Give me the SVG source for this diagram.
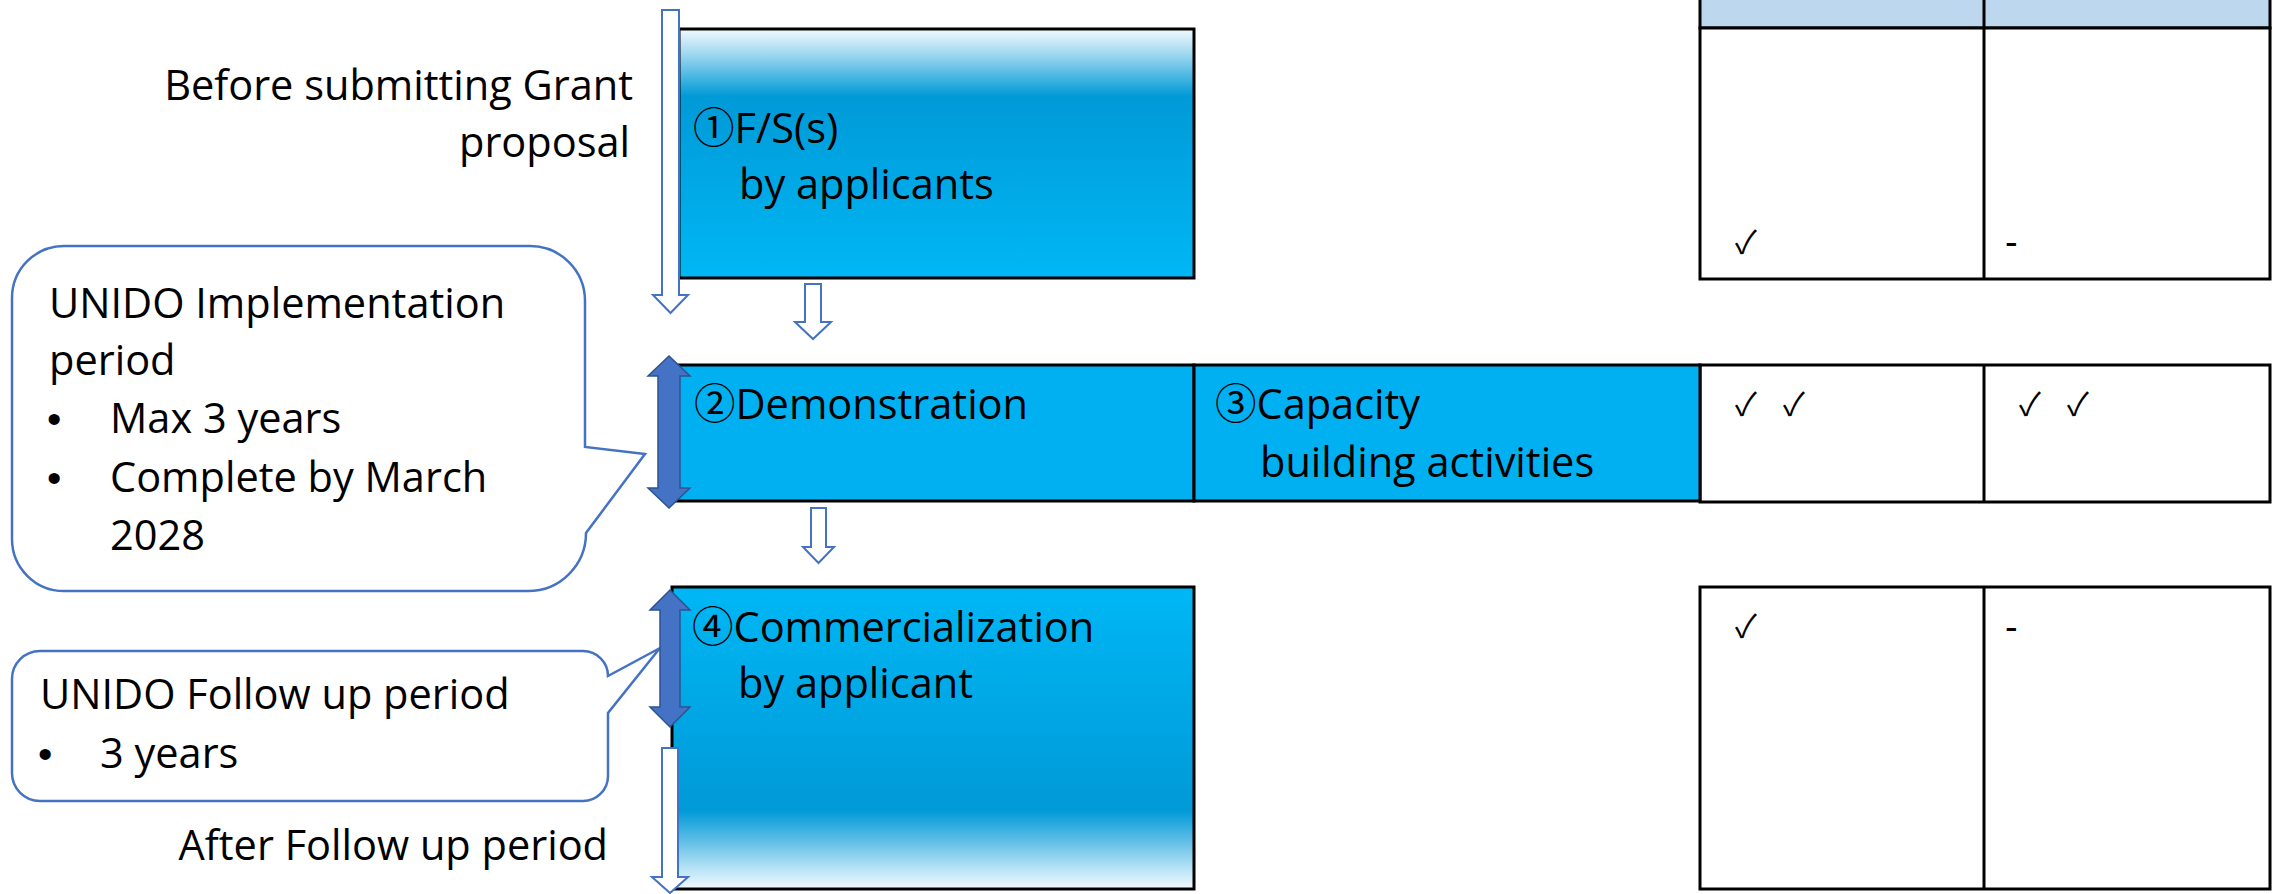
<svg xmlns="http://www.w3.org/2000/svg" width="2272" height="894" viewBox="0 0 2272 894">
<style>
.t{font-family:"Open Sans","Noto Sans CJK JP",sans-serif;font-size:41.5px;fill:#000}
.b{font-family:"Liberation Sans",sans-serif;font-size:41px;fill:#000}
.ck{font-family:"Noto Sans CJK JP","DejaVu Sans",sans-serif;font-size:32px;fill:#000}
.dash{font-family:"Liberation Sans",sans-serif;font-size:38px;fill:#000}
.box{stroke:#000;stroke-width:3}
.cell{fill:#fff;stroke:#000;stroke-width:3}
.hollow{fill:#fff;stroke:#4472C4;stroke-width:2}
.dbl{fill:#4472C4;stroke:#2F528F;stroke-width:1.5}
.callout{fill:#fff;stroke:#4472C4;stroke-width:2.5}
</style>
<defs>
<linearGradient id="g1" x1="0" y1="0" x2="0" y2="1">
<stop offset="0" stop-color="#F2FAFD"/>
<stop offset="0.1" stop-color="#A0D8F0"/>
<stop offset="0.27" stop-color="#009AD7"/>
<stop offset="1" stop-color="#00B7F5"/>
</linearGradient>
<linearGradient id="g4" x1="0" y1="0" x2="0" y2="1">
<stop offset="0" stop-color="#00B7F5"/>
<stop offset="0.74" stop-color="#009AD7"/>
<stop offset="0.84" stop-color="#5EBEE6"/>
<stop offset="0.93" stop-color="#B5E2F5"/>
<stop offset="1" stop-color="#F2FAFD"/>
</linearGradient>
</defs>
<rect width="2272" height="894" fill="#fff"/>

<g id="table">
<rect x="1700" y="-10" width="570" height="38" fill="#BDD7EE" stroke="#000" stroke-width="3"/>
<line x1="1984" y1="-10" x2="1984" y2="28" stroke="#000" stroke-width="3"/>
<rect class="cell" x="1700" y="28" width="570" height="251"/>
<line x1="1984" y1="28" x2="1984" y2="279" stroke="#000" stroke-width="3"/>
<rect class="cell" x="1700" y="365" width="570" height="137"/>
<line x1="1984" y1="365" x2="1984" y2="502" stroke="#000" stroke-width="3"/>
<rect class="cell" x="1700" y="587" width="570" height="302"/>
<line x1="1984" y1="587" x2="1984" y2="889" stroke="#000" stroke-width="3"/>
<text class="ck" x="1735" y="254">✓</text>
<text class="dash" x="2005" y="255">-</text>
<text class="ck"><tspan x="1735" y="416">✓</tspan> <tspan x="1783" y="416">✓</tspan></text>
<text class="ck"><tspan x="2019" y="416">✓</tspan> <tspan x="2067" y="416">✓</tspan></text>
<text class="ck" x="1735" y="638">✓</text>
<text class="dash" x="2005" y="640">-</text>
</g>

<g id="node1">
<rect class="box" x="679" y="29" width="515" height="249" fill="url(#g1)"/>
<text class="t" x="693" y="143">①F/S(s)</text>
<text class="t" x="739" y="199">by applicants</text>
</g>

<g id="node2">
<rect class="box" x="673" y="365" width="521" height="136" fill="#00B0F0"/>
<text class="t" x="694" y="419">②Demonstration</text>
</g>

<g id="node3">
<rect class="box" x="1194" y="365" width="506" height="136" fill="#00B0F0"/>
<text class="t" x="1215" y="419">③Capacity</text>
<text class="t" x="1260" y="477">building activities</text>
</g>

<g id="node4">
<rect class="box" x="672" y="587" width="522" height="302" fill="url(#g4)"/>
<text class="t" x="692" y="642">④Commercialization</text>
<text class="t" x="738" y="698">by applicant</text>
</g>

<g id="label-before">
<text class="t" x="633" y="100" text-anchor="end">Before submitting Grant</text>
<text class="t" x="630" y="157" text-anchor="end">proposal</text>
</g>

<g id="label-after">
<text class="t" x="608" y="860" text-anchor="end">After Follow up period</text>
</g>

<g id="callout-implementation">
<path class="callout" d="M64,246 H530 A55,55 0 0 1 585,301 V447 L645,454 L586,533 A58,58 0 0 1 528,591 H64 A52,52 0 0 1 12,539 V298 A52,52 0 0 1 64,246 Z"/>
<text class="t" x="49" y="318">UNIDO Implementation</text>
<text class="t" x="49" y="375">period</text>
<text class="b" x="47" y="433">•</text>
<text class="t" x="110" y="433">Max 3 years</text>
<text class="b" x="47" y="492">•</text>
<text class="t" x="110" y="492">Complete by March</text>
<text class="t" x="110" y="550">2028</text>
</g>

<g id="callout-followup">
<path class="callout" d="M40,651 H583 A25,25 0 0 1 608,676 L660,648 L608,713 V776 A25,25 0 0 1 583,801 H40 A28,28 0 0 1 12,773 V679 A28,28 0 0 1 40,651 Z"/>
<text class="t" x="40" y="709">UNIDO Follow up period</text>
<text class="b" x="38" y="768">•</text>
<text class="t" x="100" y="768">3 years</text>
</g>

<g id="connectors">
<path class="hollow" d="M662,10 H679 V295 H688 L670.5,313 L653,295 H662 Z"/>
<path class="hollow" d="M805,284 H821 V322 H831 L813,339 L795,322 H805 Z"/>
<path class="hollow" d="M811,508 H826 V547 H834 L818.5,563 L803,547 H811 Z"/>
<path class="hollow" d="M662,748 H678 V877 H688 L670,893 L652,877 H662 Z"/>
<path class="dbl" d="M669,356 L690,376 H680 V488 H690 L669,508 L648,488 H658 V376 H648 Z"/>
<path class="dbl" d="M670,590 L690,610 H680 V707 H690 L670,727 L650,707 H660 V610 H650 Z"/>
</g>
</svg>
